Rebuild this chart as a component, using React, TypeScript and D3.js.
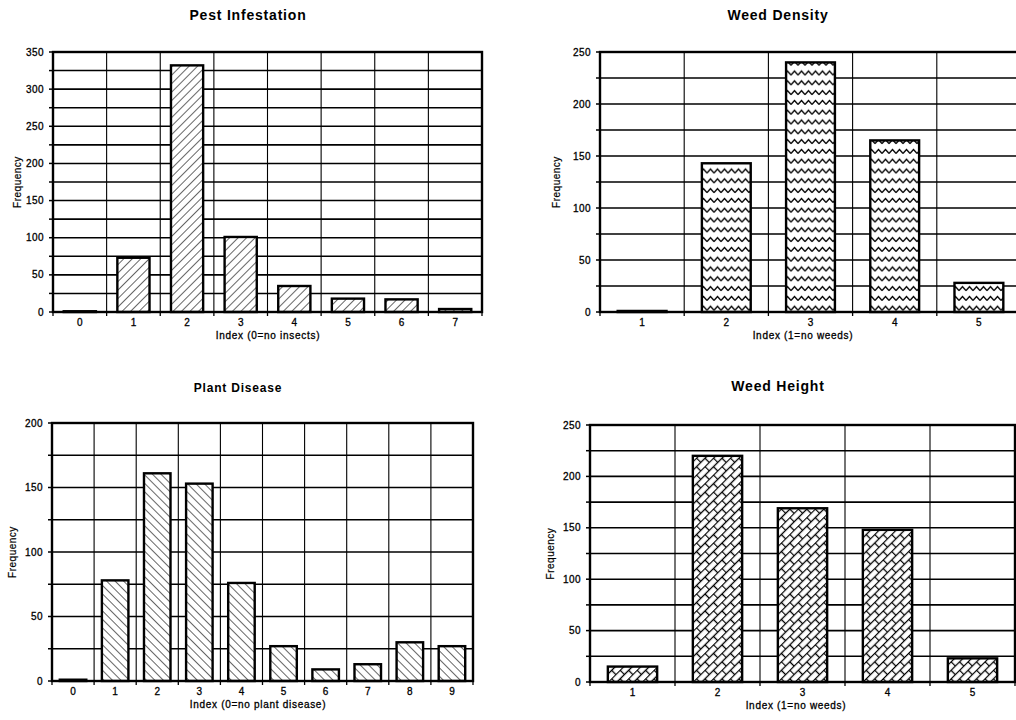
import React from "react";
import * as d3 from "d3";

// ---------- DATA ----------
const pestCategories = ["0", "1", "2", "3", "4", "5", "6", "7"];
const pestValues = [1, 73, 332, 101, 35, 18, 17, 4];

const weedDensityCategories = ["1", "2", "3", "4", "5"];
const weedDensityValues = [1, 143, 240, 165, 28];

const plantDiseaseCategories = ["0", "1", "2", "3", "4", "5", "6", "7", "8", "9"];
const plantDiseaseValues = [1, 78, 161, 153, 76, 27, 9, 13, 30, 27];

const weedHeightCategories = ["1", "2", "3", "4", "5"];
const weedHeightValues = [15, 220, 169, 148, 23];

const yTicks350 = [0, 50, 100, 150, 200, 250, 300, 350];
const yTicks250 = [0, 50, 100, 150, 200, 250];
const yTicks200 = [0, 50, 100, 150, 200];

const FONT = "'Liberation Sans', Arial, Helvetica, sans-serif";

type PanelProps = {
  title: string;
  titleSize: number;
  titleX: number;
  titleY: number;
  categories: string[];
  values: number[];
  yMax: number;
  yTicks: number[];
  left: number;
  top: number;
  right: number;
  bottom: number;
  xTitle?: string;
  xTitleX: number;
  yLabelX: number;
  pattern: string;
  barFrac: number;
};

const textStyle = { stroke: "#000", strokeWidth: 0.3 };

function Panel(p: PanelProps) {
  const x = d3.scaleBand<string>().domain(p.categories).range([p.left, p.right]).padding(0);
  const y = d3.scaleLinear().domain([0, p.yMax]).range([p.bottom, p.top]);
  const grid = d3.range(0, p.yMax + 0.001, 25);
  const bw = x.bandwidth();
  const barW = bw * p.barFrac;
  const boundaries = p.categories.map((c) => x(c) as number).concat([p.right]);
  return (
    <g>
      <text
        x={p.titleX}
        y={p.titleY}
        textAnchor="middle"
        fontFamily={FONT}
        fontWeight="bold"
        fontSize={p.titleSize}
        letterSpacing={0.8}
      >
        {p.title}
      </text>
      <rect x={p.left} y={p.top} width={p.right - p.left} height={p.bottom - p.top} fill="#fff" />
      {grid.map((g) => (
        <line key={"h" + g} x1={p.left} x2={p.right} y1={y(g)} y2={y(g)} stroke="#000" strokeWidth={1.6} />
      ))}
      {boundaries.map((b, i) => (
        <line key={"v" + i} x1={b} x2={b} y1={p.top} y2={p.bottom} stroke="#000" strokeWidth={1.1} />
      ))}
      {p.categories.map((c, i) => {
        const cx = (x(c) as number) + bw / 2;
        const v = p.values[i];
        return (
          <rect
            key={"b" + c}
            x={cx - barW / 2}
            y={y(v)}
            width={barW}
            height={y(0) - y(v)}
            fill={`url(#${p.pattern})`}
            stroke="#000"
            strokeWidth={2.4}
          />
        );
      })}
      <rect
        x={p.left}
        y={p.top}
        width={p.right - p.left}
        height={p.bottom - p.top}
        fill="none"
        stroke="#000"
        strokeWidth={2.4}
      />
      {grid.map((g) => (
        <line key={"t" + g} x1={p.left - 4} x2={p.left} y1={y(g)} y2={y(g)} stroke="#000" strokeWidth={1.5} />
      ))}
      {boundaries.map((b, i) => (
        <line key={"xt" + i} x1={b} x2={b} y1={p.bottom} y2={p.bottom + 4} stroke="#000" strokeWidth={1.3} />
      ))}
      {p.yTicks.map((t) => (
        <text
          key={"yl" + t}
          x={p.left - 9}
          y={y(t) + 3.5}
          textAnchor="end"
          fontFamily={FONT}
          fontSize={10}
          letterSpacing={0.4}
          style={textStyle}
        >
          {t}
        </text>
      ))}
      {p.categories.map((c) => (
        <text
          key={"xl" + c}
          x={(x(c) as number) + bw / 2}
          y={p.bottom + 14}
          textAnchor="middle"
          fontFamily={FONT}
          fontSize={10}
          style={textStyle}
        >
          {c}
        </text>
      ))}
      {p.xTitle && (
        <text
          x={p.xTitleX}
          y={p.bottom + 26.5}
          textAnchor="middle"
          fontFamily={FONT}
          fontSize={10}
          letterSpacing={0.7}
          style={textStyle}
        >
          {p.xTitle}
        </text>
      )}
      <text
        transform={`translate(${p.yLabelX},${(p.top + p.bottom) / 2}) rotate(-90)`}
        textAnchor="middle"
        dominantBaseline="central"
        fontFamily={FONT}
        fontSize={10}
        letterSpacing={0.5}
        style={{ stroke: "#000", strokeWidth: 0.2 }}
      >
        Frequency
      </text>
    </g>
  );
}

export default function App() {
  return (
    <svg
      width={1016}
      height={720}
      style={{ position: "absolute", left: 0, top: 0, background: "#fff" }}
    >
      <defs>
        <pattern id="hatchFwd" width={6} height={6} patternUnits="userSpaceOnUse" patternTransform="rotate(45)">
          <rect width={6} height={6} fill="#fff" />
          <line x1={0} y1={0} x2={0} y2={6} stroke="#000" strokeWidth={1.2} />
        </pattern>
        <pattern id="hatchBack" width={6} height={6} patternUnits="userSpaceOnUse" patternTransform="rotate(-45)">
          <rect width={6} height={6} fill="#fff" />
          <line x1={0} y1={0} x2={0} y2={6} stroke="#000" strokeWidth={1.2} />
        </pattern>
        <pattern id="zigzag" width={7} height={9.8} patternUnits="userSpaceOnUse">
          <rect width={7} height={9.8} fill="#fff" />
          <path d="M0,6.5 L3.5,2.5 L7,6.5" fill="none" stroke="#000" strokeWidth={1.4} />
        </pattern>
        <pattern id="brick" width={12} height={12} patternUnits="userSpaceOnUse" patternTransform="rotate(-45)">
          <rect width={12} height={12} fill="#fff" />
          <line x1={0} y1={0.5} x2={12} y2={0.5} stroke="#000" strokeWidth={1.3} />
          <line x1={0} y1={6.5} x2={12} y2={6.5} stroke="#000" strokeWidth={1.3} />
          <line x1={0.5} y1={0.5} x2={0.5} y2={6.5} stroke="#000" strokeWidth={1.3} />
          <line x1={6.5} y1={6.5} x2={6.5} y2={12} stroke="#000" strokeWidth={1.3} />
        </pattern>
      </defs>
      <rect width={1016} height={720} fill="#fff" />
      <Panel
        title="Pest Infestation"
        titleSize={14}
        titleX={248}
        titleY={20}
        categories={pestCategories}
        values={pestValues}
        yMax={350}
        yTicks={yTicks350}
        left={53}
        top={52}
        right={482}
        bottom={312}
        xTitle="Index (0=no insects)"
        xTitleX={268}
        yLabelX={17}
        pattern="hatchFwd"
        barFrac={0.6}
      />
      <Panel
        title="Weed Density"
        titleSize={14}
        titleX={778}
        titleY={20}
        categories={weedDensityCategories}
        values={weedDensityValues}
        yMax={250}
        yTicks={yTicks250}
        left={600}
        top={52}
        right={1021}
        bottom={312}
        xTitle="Index (1=no weeds)"
        xTitleX={803}
        yLabelX={556}
        pattern="zigzag"
        barFrac={0.58}
      />
      <Panel
        title="Plant Disease"
        titleSize={12}
        titleX={238}
        titleY={392}
        categories={plantDiseaseCategories}
        values={plantDiseaseValues}
        yMax={200}
        yTicks={yTicks200}
        left={52}
        top={423}
        right={473}
        bottom={681}
        xTitle="Index (0=no plant disease)"
        xTitleX={258}
        yLabelX={12}
        pattern="hatchBack"
        barFrac={0.63}
      />
      <Panel
        title="Weed Height"
        titleSize={14}
        titleX={778}
        titleY={391}
        categories={weedHeightCategories}
        values={weedHeightValues}
        yMax={250}
        yTicks={yTicks250}
        left={590}
        top={425}
        right={1015}
        bottom={682}
        xTitle="Index (1=no weeds)"
        xTitleX={796}
        yLabelX={550}
        pattern="brick"
        barFrac={0.58}
      />
    </svg>
  );
}
